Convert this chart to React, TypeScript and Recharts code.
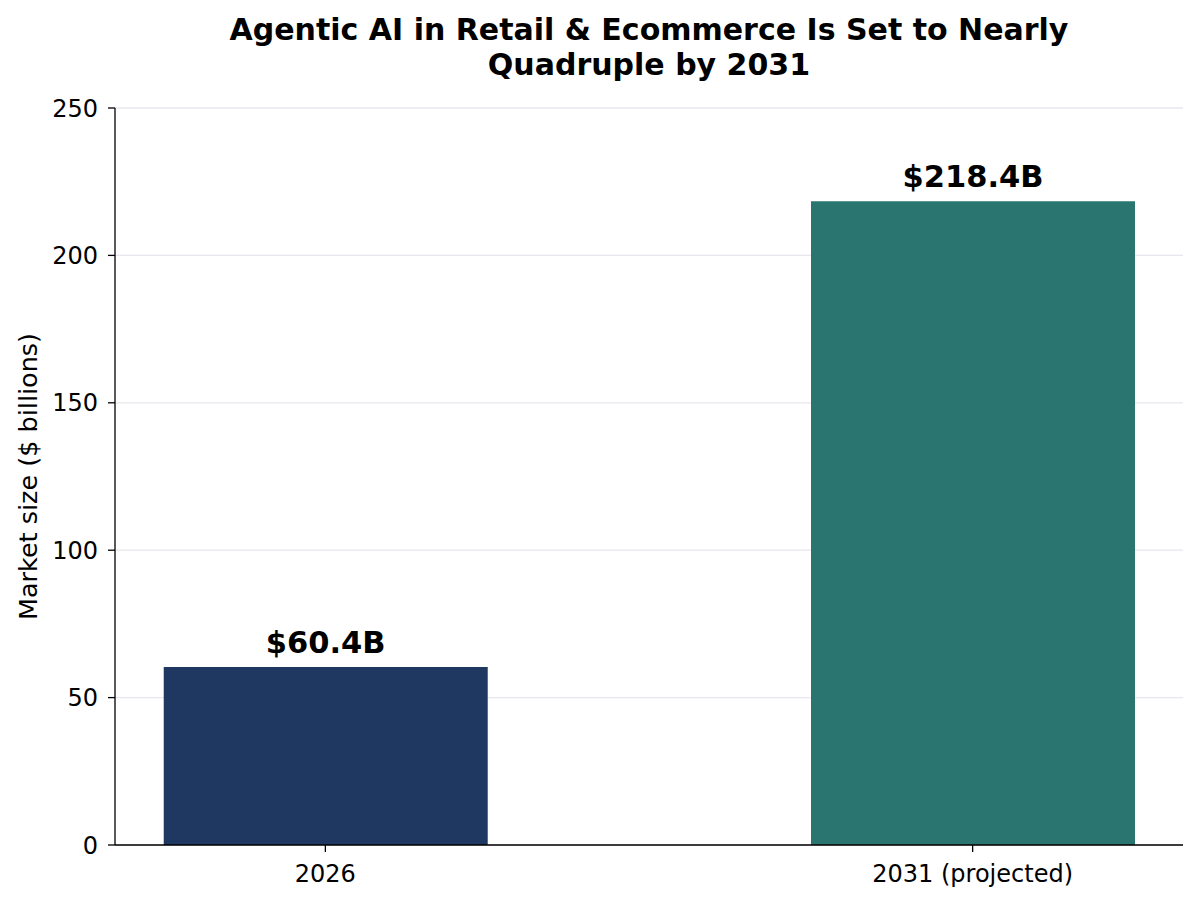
import { BarChart, Bar, XAxis, YAxis, CartesianGrid, Cell, LabelList } from "recharts";

const categories = ["2026", "2031 (projected)"];
const marketSize = [60.4, 218.4];
const barColors = ["#1f3862", "#2a756f"];
const yTicks = [0, 50, 100, 150, 200, 250];

const data = categories.map((name, i) => ({ idx: i, name, value: marketSize[i] }));

const FONT = "'DejaVu Sans', sans-serif";

const YLabel = (props: any) => {
  const vb = props.viewBox || { x: 0, y: 0, width: 0, height: 0 };
  const cx = 28;
  const cy = vb.y + vb.height / 2;
  return (
    <text
      x={cx}
      y={cy}
      transform={`rotate(-90, ${cx}, ${cy})`}
      textAnchor="middle"
      dominantBaseline="central"
      fontFamily={FONT}
      fontSize={25.5}
      fill="#000"
    >
      Market size ($ billions)
    </text>
  );
};

export default function App() {
  return (
    <div style={{ position: "absolute", left: 0, top: 0, width: 1200, height: 904, background: "#fff" }}>
      <div
        style={{
          position: "absolute",
          top: 12,
          left: 149,
          width: 1000,
          textAlign: "center",
          fontFamily: FONT,
          fontWeight: "bold",
          fontSize: 30,
          lineHeight: "35px",
          color: "#000",
        }}
      >
        Agentic AI in Retail &amp; Ecommerce Is Set to Nearly
        <br />
        Quadruple by 2031
      </div>
      <BarChart
        width={1200}
        height={904}
        data={data}
        margin={{ top: 108, right: 17, left: 0, bottom: 0 }}
      >
        <CartesianGrid vertical={false} stroke="#e7e7ed" strokeWidth={1.3} />
        <XAxis
          dataKey="idx"
          type="number"
          domain={[-0.325, 1.325]}
          ticks={[0, 1]}
          allowDataOverflow
          height={59}
          tickFormatter={(v: number) => categories[v]}
          axisLine={{ stroke: "#000", strokeWidth: 1.3 }}
          tickLine={{ stroke: "#000", strokeWidth: 1.3 }}
          tickSize={7}
          tickMargin={13}
          tick={{ fill: "#000", fontSize: 24, fontFamily: FONT }}
        />
        <YAxis
          domain={[0, 250]}
          ticks={yTicks}
          width={115}
          axisLine={{ stroke: "#000", strokeWidth: 1.3 }}
          tickLine={{ stroke: "#000", strokeWidth: 1.3 }}
          tickSize={7}
          tickMargin={10}
          tick={{ fill: "#000", fontSize: 24, fontFamily: FONT }}
          label={{ content: YLabel }}
        />
        <Bar dataKey="value" barSize={324} isAnimationActive={false}>
          {data.map((d, i) => (
            <Cell key={d.name} fill={barColors[i]} />
          ))}
          <LabelList
            dataKey="value"
            position="top"
            offset={14}
            formatter={(v: any) => `$${v}B`}
            fill="#000"
            fontSize={30.5}
            fontWeight="bold"
            fontFamily={FONT}
          />
        </Bar>
      </BarChart>
    </div>
  );
}
